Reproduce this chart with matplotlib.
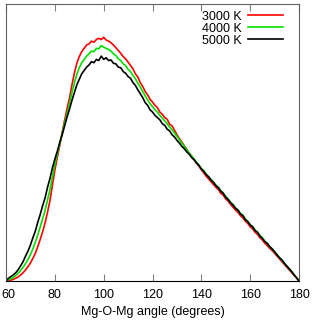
import numpy as np
import matplotlib
matplotlib.use("Agg")
from matplotlib import pyplot as plt
from matplotlib.transforms import ScaledTranslation

plt.rcParams.update({
    "font.family": ["Liberation Sans", "DejaVu Sans"],
    "font.size": 9,
})

# angle grid (degrees)
angle = list(range(60, 181))

# 3000 K
red_3000 = [
    0.000, 0.002, 0.003, 0.006, 0.010, 0.015, 0.022, 0.030, 0.040, 0.052,
    0.065, 0.082, 0.100, 0.124, 0.150, 0.178, 0.210, 0.248, 0.290, 0.346,
    0.400, 0.446, 0.490, 0.536, 0.580, 0.622, 0.660, 0.708, 0.750, 0.786,
    0.810, 0.828, 0.840, 0.852, 0.856, 0.866, 0.862, 0.872, 0.876, 0.872,
    0.880, 0.870, 0.866, 0.860, 0.852, 0.842, 0.832, 0.822, 0.810, 0.802,
    0.790, 0.778, 0.766, 0.748, 0.736, 0.716, 0.702, 0.684, 0.672, 0.656,
    0.646, 0.634, 0.626, 0.610, 0.602, 0.590, 0.584, 0.566, 0.560, 0.544,
    0.528, 0.514, 0.502, 0.488, 0.476, 0.462, 0.450, 0.438, 0.426, 0.414,
    0.402, 0.390, 0.378, 0.368, 0.358, 0.348, 0.338, 0.330, 0.316, 0.310,
    0.296, 0.288, 0.276, 0.266, 0.256, 0.248, 0.236, 0.228, 0.216, 0.208,
    0.196, 0.188, 0.176, 0.168, 0.156, 0.148, 0.136, 0.128, 0.118, 0.110,
    0.100, 0.090, 0.080, 0.070, 0.060, 0.050, 0.040, 0.030, 0.020, 0.010,
    0.000,
]

# 4000 K
green_4000 = [
    0.000, 0.005, 0.008, 0.013, 0.020, 0.028, 0.038, 0.049, 0.063, 0.078,
    0.095, 0.116, 0.140, 0.166, 0.195, 0.224, 0.255, 0.292, 0.330, 0.376,
    0.420, 0.458, 0.495, 0.532, 0.570, 0.604, 0.640, 0.680, 0.715, 0.746,
    0.770, 0.788, 0.800, 0.812, 0.820, 0.830, 0.828, 0.840, 0.838, 0.850,
    0.844, 0.840, 0.836, 0.830, 0.820, 0.814, 0.802, 0.796, 0.784, 0.778,
    0.764, 0.756, 0.742, 0.730, 0.714, 0.700, 0.684, 0.668, 0.654, 0.640,
    0.630, 0.618, 0.610, 0.598, 0.588, 0.578, 0.568, 0.556, 0.546, 0.534,
    0.522, 0.510, 0.498, 0.486, 0.474, 0.462, 0.452, 0.440, 0.430, 0.418,
    0.406, 0.398, 0.386, 0.376, 0.366, 0.356, 0.346, 0.338, 0.326, 0.318,
    0.304, 0.296, 0.284, 0.276, 0.264, 0.256, 0.244, 0.238, 0.224, 0.216,
    0.204, 0.196, 0.184, 0.176, 0.164, 0.156, 0.144, 0.136, 0.124, 0.116,
    0.104, 0.096, 0.084, 0.076, 0.064, 0.054, 0.044, 0.034, 0.022, 0.012,
    0.000,
]

# 5000 K
black_5000 = [
    0.000, 0.010, 0.016, 0.022, 0.030, 0.041, 0.055, 0.070, 0.090, 0.108,
    0.130, 0.156, 0.180, 0.212, 0.240, 0.272, 0.300, 0.338, 0.370, 0.408,
    0.440, 0.468, 0.500, 0.528, 0.560, 0.592, 0.620, 0.652, 0.680, 0.708,
    0.728, 0.748, 0.760, 0.772, 0.780, 0.792, 0.788, 0.800, 0.796, 0.812,
    0.800, 0.806, 0.796, 0.798, 0.786, 0.784, 0.772, 0.770, 0.756, 0.750,
    0.738, 0.732, 0.716, 0.706, 0.690, 0.676, 0.662, 0.644, 0.634, 0.618,
    0.610, 0.598, 0.590, 0.582, 0.568, 0.562, 0.548, 0.542, 0.528, 0.520,
    0.508, 0.498, 0.486, 0.478, 0.466, 0.458, 0.446, 0.438, 0.426, 0.418,
    0.404, 0.396, 0.384, 0.376, 0.364, 0.356, 0.344, 0.336, 0.324, 0.316,
    0.302, 0.294, 0.282, 0.274, 0.262, 0.256, 0.242, 0.236, 0.222, 0.214,
    0.202, 0.196, 0.182, 0.176, 0.162, 0.154, 0.142, 0.136, 0.124, 0.116,
    0.106, 0.094, 0.084, 0.076, 0.064, 0.054, 0.044, 0.034, 0.022, 0.012,
    0.000,
]

labels = ["3000 K", "4000 K", "5000 K"]
colors = ["#ff0000", "#00e000", "#000000"]
xticks = [60, 80, 100, 120, 140, 160, 180]

fig = plt.figure(figsize=(3.13, 3.21), dpi=100)
ax = fig.add_axes([0.0192, 0.1246, 0.9361, 0.8629])

for ys, lab, col in zip([red_3000, green_4000, black_5000], labels, colors):
    ax.plot(angle, ys, color=col, lw=1.2, label=lab)

ax.set_xlim(60, 180)
ax.set_ylim(0, 1)
ax.set_xticks(xticks)
ax.set_yticks([])
ax.tick_params(axis="x", direction="in", top=True, length=5, color="#808080", pad=6)
for s in ax.spines.values():
    s.set_color("#606060")
ax.spines["bottom"].set_color("#000000")
ax.set_xlabel("Mg-O-Mg angle (degrees)", labelpad=3)

# nudge the first tick label so it stays inside the figure
first = ax.get_xticklabels()[0]
first.set_transform(first.get_transform() + ScaledTranslation(2 / 100, 0, fig.dpi_scale_trans))

ax.legend(loc="upper right", bbox_to_anchor=(0.985, 1.017), frameon=False,
          markerfirst=False, handlelength=2.8, handletextpad=0.55,
          labelspacing=0.0, fontsize=9)

fig.savefig("out.png", dpi=100)
